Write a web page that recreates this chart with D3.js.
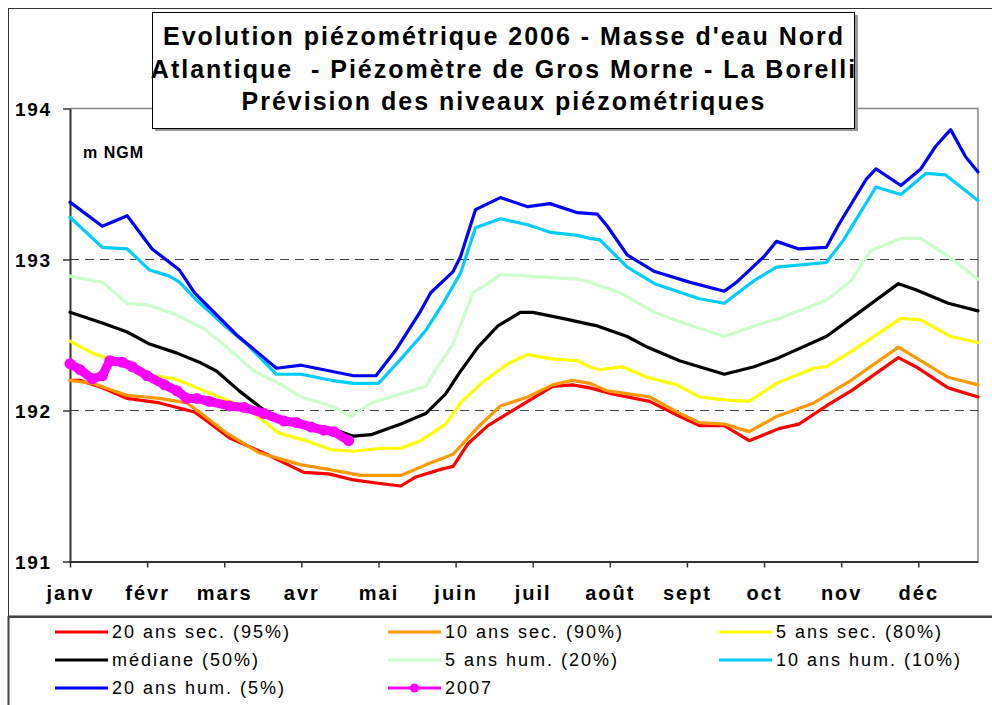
<!DOCTYPE html>
<html>
<head>
<meta charset="utf-8">
<script src="https://cdn.jsdelivr.net/npm/d3@7"></script>
<style>
  body { margin: 0; background: #fff; }
  svg { font-family: "Liberation Sans", Arial, sans-serif; }
</style>
</head>
<body>
<svg class="chart" width="992" height="705"></svg>
<script>
// Piezometric levels (m NGM), as [day of year, level]
var sec20 = [[0,192.20],[4,192.20],[13,192.15],[23,192.08],[36,192.05],[50,191.99],[55,191.93],[64,191.82],[79,191.71],[94,191.59],[104,191.58],[114,191.54],[123,191.52],[133,191.50],[139,191.56],[149,191.61],[154,191.63],[160,191.78],[168,191.90],[181,192.03],[194,192.16],[202,192.17],[209,192.15],[218,192.11],[233,192.06],[244,191.97],[253,191.90],[263,191.90],[273,191.80],[285,191.88],[293,191.91],[304,192.03],[314,192.13],[333,192.35],[340,192.29],[353,192.15],[365,192.09]];
var sec10 = [[0,192.20],[9,192.18],[23,192.10],[36,192.08],[47,192.05],[52,191.99],[63,191.85],[76,191.72],[93,191.64],[104,191.61],[117,191.57],[133,191.57],[143,191.64],[154,191.71],[164,191.89],[173,192.03],[184,192.09],[194,192.17],[202,192.20],[209,192.18],[216,192.13],[233,192.09],[244,191.99],[253,191.92],[263,191.91],[273,191.86],[284,191.96],[299,192.05],[314,192.20],[333,192.42],[340,192.35],[353,192.22],[365,192.17]];
var sec5 = [[0,192.46],[9,192.38],[16,192.34],[30,192.24],[42,192.21],[54,192.13],[66,192.05],[74,191.98],[84,191.85],[95,191.80],[105,191.74],[114,191.73],[125,191.75],[133,191.75],[141,191.80],[151,191.91],[157,192.05],[166,192.19],[176,192.31],[184,192.37],[194,192.34],[204,192.33],[209,192.29],[213,192.27],[222,192.29],[232,192.22],[244,192.17],[253,192.09],[263,192.07],[273,192.06],[284,192.18],[299,192.28],[304,192.29],[314,192.39],[334,192.61],[342,192.60],[354,192.49],[365,192.45]];
var median = [[0,192.65],[13,192.58],[23,192.52],[32,192.44],[43,192.38],[52,192.32],[59,192.26],[68,192.13],[79,191.99],[90,191.92],[105,191.88],[114,191.83],[121,191.84],[133,191.91],[143,191.98],[151,192.11],[157,192.26],[164,192.42],[172,192.56],[181,192.65],[186,192.65],[198,192.61],[209,192.57],[212,192.56],[224,192.49],[232,192.42],[245,192.33],[263,192.24],[275,192.29],[285,192.35],[304,192.49],[314,192.61],[333,192.84],[340,192.80],[353,192.71],[365,192.66]];
var hum5 = [[0,192.89],[9,192.86],[13,192.85],[23,192.71],[31,192.70],[42,192.64],[54,192.54],[63,192.42],[74,192.26],[84,192.18],[93,192.09],[105,192.03],[113,191.96],[121,192.05],[131,192.10],[143,192.16],[147,192.27],[154,192.44],[162,192.78],[168,192.84],[173,192.90],[184,192.89],[204,192.87],[209,192.85],[221,192.78],[235,192.65],[245,192.59],[263,192.49],[275,192.56],[285,192.61],[304,192.73],[314,192.86],[322,193.06],[334,193.14],[342,193.14],[354,193.01],[365,192.87]];
var hum10 = [[0,193.28],[13,193.08],[23,193.07],[32,192.93],[40,192.89],[44,192.85],[51,192.73],[63,192.55],[71,192.44],[83,192.24],[93,192.24],[105,192.20],[114,192.18],[124,192.18],[133,192.34],[143,192.53],[150,192.71],[157,192.91],[163,193.21],[173,193.27],[184,193.23],[193,193.18],[204,193.16],[209,193.14],[213,193.13],[224,192.95],[235,192.84],[253,192.74],[263,192.71],[275,192.86],[284,192.95],[304,192.98],[311,193.13],[324,193.48],[334,193.43],[344,193.57],[352,193.56],[365,193.39]];
var hum20 = [[0,193.38],[13,193.22],[23,193.29],[33,193.07],[44,192.93],[50,192.78],[67,192.50],[83,192.28],[93,192.30],[105,192.26],[114,192.23],[123,192.23],[131,192.40],[141,192.66],[145,192.78],[154,192.92],[157,193.02],[163,193.33],[173,193.41],[184,193.35],[193,193.37],[204,193.31],[212,193.30],[216,193.22],[224,193.03],[235,192.92],[249,192.85],[263,192.79],[268,192.85],[279,193.02],[284,193.12],[293,193.07],[304,193.08],[309,193.23],[320,193.53],[324,193.60],[334,193.49],[342,193.60],[348,193.75],[354,193.86],[360,193.68],[365,193.58]];
var year2007 = [[0,192.31],[4,192.27],[9,192.21],[13,192.23],[16,192.33],[21,192.32],[25,192.29],[31,192.23],[38,192.17],[43,192.13],[47,192.08],[51,192.08],[56,192.06],[64,192.03],[70,192.02],[78,191.98],[86,191.93],[91,191.92],[97,191.89],[102,191.87],[106,191.86],[112,191.80]];

var monthNames = ["janv", "févr", "mars", "avr", "mai", "juin", "juil", "août", "sept", "oct", "nov", "déc"];
var monthTicks = [0, 31, 62, 93, 124, 155, 186, 217, 248, 279, 310, 341];
var levelTicks = [191, 192, 193, 194];
var gridLevels = [192, 193];

var titleLines = [
    "Evolution piézométrique 2006 - Masse d'eau Nord",
    "Atlantique  - Piézomètre de Gros Morne - La Borelli",
    "Prévision des niveaux piézométriques"
];

var seriesNames = ["20 ans sec. (95%)", "10 ans sec. (90%)", "5 ans sec. (80%)", "médiane (50%)",
    "5 ans hum. (20%)", "10 ans hum. (10%)", "20 ans hum. (5%)", "2007"];
var seriesColors = ["#ff0000", "#ff9900", "#ffff00", "#000000", "#ccffcc", "#00ccff", "#0000ff", "#ff00ff"];
var seriesData = [sec20, sec10, sec5, median, hum5, hum10, hum20, year2007];

// plot area edges (not named "top": that one belongs to window)
var plotLeft = 70, plotRight = 978, plotTop = 108.5, plotBottom = 561.5;

var svg = d3.select(".chart");

var x = d3.scaleLinear().domain([0, 365]).range([plotLeft, plotRight]);
var y = d3.scaleLinear().domain([191, 194]).range([plotBottom, plotTop]);

// outer frame of the chart area
svg.append("rect")
    .attr("x", 8.5).attr("y", 8.5)
    .attr("width", 1000).attr("height", 607.5)
    .attr("fill", "none").attr("stroke", "#333").attr("stroke-width", 1);

// plot border (top and right, grey)
svg.append("path")
    .attr("d", "M" + plotLeft + "," + plotTop + "H" + plotRight + "V" + plotBottom)
    .attr("fill", "none").attr("stroke", "#888").attr("stroke-width", 1.5);

// dashed grid lines
svg.selectAll(".grid")
    .data(gridLevels)
    .enter().append("line")
    .attr("class", "grid")
    .attr("x1", plotLeft).attr("x2", plotRight)
    .attr("y1", function(d) { return y(d); })
    .attr("y2", function(d) { return y(d); })
    .attr("stroke", "#444").attr("stroke-width", 1)
    .attr("stroke-dasharray", "9,6");

/**** Y axis ****/
var yAxis = d3.axisLeft(y)
    .tickValues(levelTicks)
    .tickFormat(d3.format("d"))
    .tickSize(7)
    .tickSizeOuter(0)
    .tickPadding(11);

var yG = svg.append("g")
    .attr("transform", "translate(" + plotLeft + ",0)")
    .call(yAxis);

/**** X axis ****/
var xAxis = d3.axisBottom(x)
    .tickValues(monthTicks)
    .tickFormat(function(d, i) { return monthNames[i]; })
    .tickSize(6)
    .tickSizeOuter(0)
    .tickPadding(18);

var xG = svg.append("g")
    .attr("transform", "translate(0," + plotBottom + ")")
    .call(xAxis);

[yG, xG].forEach(function(g) {
    g.select(".domain").attr("stroke", "#333").attr("stroke-width", 2);
    g.selectAll(".tick line").attr("stroke", "#333").attr("stroke-width", 1.5);
    g.selectAll(".tick text")
        .attr("fill", "#000")
        .style("font-family", "'Liberation Sans', Arial, sans-serif")
        .style("font-weight", "bold");
});
yG.selectAll(".tick text").style("font-size", "19px").style("letter-spacing", "1.8px").attr("dy", "0.35em");
xG.selectAll(".tick text").style("font-size", "20px").style("letter-spacing", "2px");

svg.append("text")
    .attr("x", 83).attr("y", 158)
    .style("font-size", "16px").style("font-weight", "bold").style("letter-spacing", "1px")
    .text("m NGM");

/**** Lines ****/
var line = d3.line()
    .x(function(d) { return x(d[0]); })
    .y(function(d) { return y(d[1]); });

var plot = svg.append("g");

seriesData.forEach(function(data, i) {
    plot.append("path")
        .datum(data)
        .attr("d", line)
        .attr("fill", "none")
        .attr("stroke", seriesColors[i])
        .attr("stroke-width", i === 7 ? 9 : 3.2)
        .attr("stroke-linejoin", "round")
        .attr("stroke-linecap", "round");
});

plot.selectAll(".dot2007")
    .data(year2007)
    .enter().append("circle")
    .attr("class", "dot2007")
    .attr("cx", function(d) { return x(d[0]); })
    .attr("cy", function(d) { return y(d[1]); })
    .attr("r", 5.5)
    .attr("fill", "#ff00ff");

/**** Title box ****/
svg.append("rect")
    .attr("x", 155).attr("y", 15).attr("width", 703).attr("height", 116)
    .attr("fill", "#999");
svg.append("rect")
    .attr("x", 152.5).attr("y", 12.5).attr("width", 702).attr("height", 116)
    .attr("fill", "#fff").attr("stroke", "#000").attr("stroke-width", 1);

svg.selectAll(".title")
    .data(titleLines)
    .enter().append("text")
    .attr("class", "title")
    .attr("x", 504)
    .attr("y", function(d, i) { return 45 + i * 32.5; })
    .attr("text-anchor", "middle")
    .style("font-size", "25px").style("font-weight", "bold").style("letter-spacing", "2px")
    .style("white-space", "pre")
    .text(function(d) { return d; });

/**** Legend ****/
svg.append("rect")
    .attr("x", 8.5).attr("y", 617)
    .attr("width", 1000).attr("height", 100)
    .attr("fill", "#fff").attr("stroke", "#444").attr("stroke-width", 2);

var legendCols = [55, 388, 719];
var legendRows = [632, 660, 688];

var items = svg.selectAll(".legend")
    .data(seriesNames)
    .enter().append("g")
    .attr("class", "legend")
    .attr("transform", function(d, i) {
        return "translate(" + legendCols[i % 3] + "," + legendRows[Math.floor(i / 3)] + ")";
    });

items.append("line")
    .attr("x1", 0).attr("x2", 53)
    .attr("stroke", function(d, i) { return seriesColors[i]; })
    .attr("stroke-width", 3);

items.filter(function(d, i) { return i === 7; })
    .append("circle")
    .attr("cx", 26.5).attr("r", 4.5)
    .attr("fill", "#ff00ff");

items.append("text")
    .attr("x", 57).attr("y", 6)
    .style("font-size", "18px").style("letter-spacing", "2px")
    .text(function(d) { return d; });
</script>
</body>
</html>
